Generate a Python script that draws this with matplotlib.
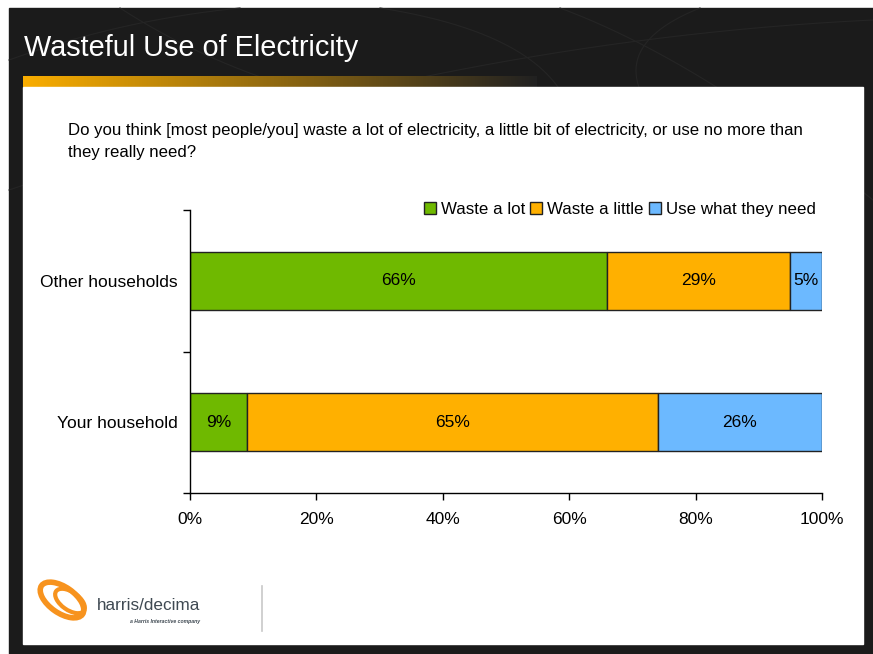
import numpy as np
import matplotlib
matplotlib.use("Agg")
import matplotlib.pyplot as plt
from matplotlib.patches import Rectangle, Ellipse
from matplotlib.ticker import FixedLocator, PercentFormatter

plt.rcParams['font.family'] = ['Liberation Sans', 'DejaVu Sans']

categories = ["Your household", "Other households"]
series_names = ["Waste a lot", "Waste a little", "Use what they need"]
waste_lot = [9, 66]
waste_little = [65, 29]
use_need = [26, 5]
colors = ["#6FB900", "#FFB000", "#6CB9FF"]

W, H = 873, 654
fig = plt.figure(figsize=(W / 100, H / 100), dpi=100)
fig.patch.set_facecolor("white")

# background layer in pixel coordinates
bg = fig.add_axes([0, 0, 1, 1])
bg.set_xlim(0, W)
bg.set_ylim(H, 0)
bg.axis("off")
bg.add_patch(Rectangle((9, 8), W - 9, H - 8, color="#1b1b1b", zorder=0))

# faint decorative curves on the dark header
t = np.linspace(0, 1, 200)
for (x0, y0, x1, y1, cx, cy) in [(9, 190, 873, 20, 450, 40), (120, 8, 300, 90, 200, 60),
                                  (560, 8, 873, 200, 700, 60), (380, 8, 560, 90, 520, 30),
                                  (700, 8, 640, 90, 620, 40), (9, 60, 240, 8, 120, 20)]:
    xs = (1 - t) ** 2 * x0 + 2 * (1 - t) * t * cx + t ** 2 * x1
    ys = (1 - t) ** 2 * y0 + 2 * (1 - t) * t * cy + t ** 2 * y1
    bg.plot(xs, ys, color="#252525", lw=0.8, zorder=0.5)

# gold gradient strip under the title
grad = np.linspace(0, 1, 256)
gold = np.array([0.98, 0.68, 0.0])
dark = np.array([0.13, 0.13, 0.13])
strip = (1 - grad[:, None]) * gold + grad[:, None] * dark
bg.imshow(strip[None, :, :], extent=(23, 537, 87, 76), aspect="auto", zorder=1)
bg.add_patch(Rectangle((23, 87), 863 - 23, 644 - 87, color="white", zorder=2))

bg.text(24, 48, "Wasteful Use of Electricity", color="white", fontsize=20.8,
        va="center", ha="left", zorder=3)

bg.text(68, 131, "Do you think [most people/you] waste a lot of electricity, a little bit of electricity, or use no more than",
        fontsize=12.1, va="center", ha="left", zorder=3)
bg.text(68, 152, "they really need?", fontsize=12.1, va="center", ha="left", zorder=3)

# logo
bg.add_patch(Ellipse((62, 600), 50, 26, angle=35, fill=False, ec="#F7931E", lw=4, zorder=3))
bg.add_patch(Ellipse((70, 601), 34, 18, angle=35, fill=False, ec="#F7931E", lw=3, zorder=3))
bg.text(97, 606, "harris/decima", color="#3f4952", fontsize=12.3, va="center", ha="left", zorder=3)
bg.text(200, 621, "a Harris Interactive company", color="#3f4952", fontsize=3.7,
        style="italic", weight="bold", va="center", ha="right", zorder=3)
bg.plot([262, 262], [586, 631], color="#c8c8c8", lw=1.2, zorder=3)

# chart
ax = fig.add_axes([190 / W, 1 - 493 / H, (822 - 190) / W, (493 - 210) / H])
ax.set_zorder(5)
ax.patch.set_alpha(0)
y = np.arange(len(categories))
left = np.zeros(len(categories))
for vals, name, c in zip([waste_lot, waste_little, use_need], series_names, colors):
    bars = ax.barh(y, vals, left=left, height=0.41, color=c, edgecolor="#222222",
                   linewidth=1, label=name)
    for b, v in zip(bars, vals):
        ax.text(b.get_x() + b.get_width() / 2, b.get_y() + b.get_height() / 2, f"{v}%",
                ha="center", va="center", fontsize=12.5)
    left += vals

ax.set_xlim(0, 100)
ax.set_ylim(-0.5, 1.5)
ax.xaxis.set_major_locator(FixedLocator([0, 20, 40, 60, 80, 100]))
ax.xaxis.set_major_formatter(PercentFormatter(decimals=0))
ax.set_yticks(y)
ax.set_yticklabels(categories)
ax.yaxis.set_minor_locator(FixedLocator([-0.5, 0.5, 1.5]))
ax.tick_params(axis="y", which="major", length=0, pad=9, labelsize=12.5)
ax.tick_params(axis="y", which="minor", length=5, width=1)
ax.tick_params(axis="x", length=5, width=1, pad=9, labelsize=12.5)
for s in ["top", "right"]:
    ax.spines[s].set_visible(False)
for s in ["left", "bottom"]:
    ax.spines[s].set_linewidth(1)

ax.legend(loc="lower right", bbox_to_anchor=(0.99, 0.975), ncol=3, frameon=False,
          fontsize=12.2, handlelength=0.7, handleheight=0.7, handletextpad=0.3,
          columnspacing=0.3, borderaxespad=0, borderpad=0)

fig.savefig("out.png", dpi=100)
